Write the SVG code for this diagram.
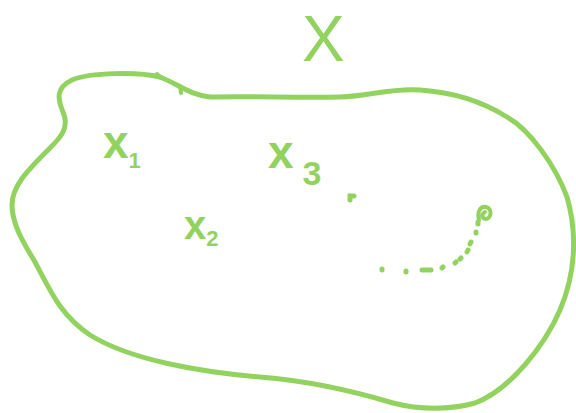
<svg xmlns="http://www.w3.org/2000/svg" width="576" height="413" viewBox="0 0 576 413">
<style>
.ink{fill:none;stroke:#92d35f;stroke-width:5;stroke-linecap:round;stroke-linejoin:round}
.dot{fill:none;stroke:#92d35f;stroke-width:5;stroke-linecap:round}
.lbl{font-family:"Liberation Sans",Arial,sans-serif;fill:#92d35f;font-weight:bold}
</style>
<rect width="576" height="413" fill="#ffffff"/>
<g id="set-X">
<path class="ink" d="M210,97 C190,95 180,85 160,77 C140,72 90,72 72,80 C55,88 58,100 63,112 C70,128 60,138 50,148 C30,168 12,185 12,205 C12,225 25,245 35,262 C50,290 60,315 90,335 C130,360 200,372 260,377 C310,381 350,390 393,403 C420,410 450,410 475,403 C510,390 545,345 560,310 C575,275 578,235 567,197 C555,165 530,130 507,117 C480,100 450,92 420,90 C390,88 370,96 340,97 C300,98 250,96 210,97 Z"/>
<path class="ink" d="M157,74 L161,78 M180,86 L181,93" style="stroke-width:4"/>
</g>
<g id="label-X"><text class="lbl" x="302" y="61" font-size="64" style="font-weight:normal">X</text></g>
<g id="label-x1"><text class="lbl" x="103" y="158" font-size="46">x<tspan font-size="22" dy="10">1</tspan></text></g>
<g id="label-x2"><text class="lbl" x="184" y="239" font-size="40">x<tspan font-size="22" dy="7">2</tspan></text></g>
<g id="label-x3"><text class="lbl" x="268" y="168" font-size="46">x<tspan font-size="34" dy="17" dx="9">3</tspan></text></g>
<g id="path">
<path class="dot" d="M350,200 L350,196 L354,196"/>
<path class="dot" d="M382,269 L382,270 M406,271 L406,272 M422,270 L431,270 M442,268 L443,267 M455,263 L456,262 M460,259 L461,258 M467,252 L468,250 M470,244 L471,242 M476,233 L476,232 M478,224 L478,222"/>
<path class="dot" d="M479,220 C477,212 480,206 486,207 C492,208 492,218 486,219 C482,219 481,214 485,212" style="stroke-width:4"/>
</g>
</svg>
